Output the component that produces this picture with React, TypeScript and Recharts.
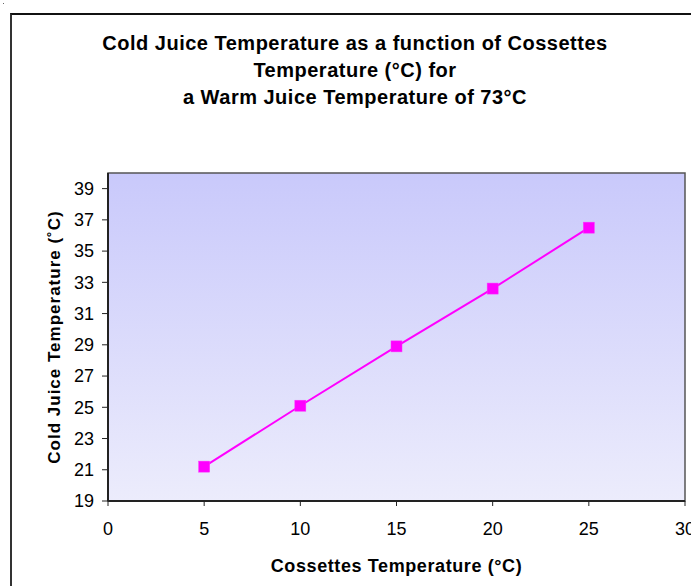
import { Label, Line, LineChart, ReferenceArea, XAxis, YAxis } from "recharts";

const cossettesTemp = [5, 10, 15, 20, 25];
const coldJuiceTemp = [21.2, 25.1, 28.9, 32.6, 36.5];
const xTicks = [0, 5, 10, 15, 20, 25, 30];
const yTicks = [19, 21, 23, 25, 27, 29, 31, 33, 35, 37, 39];

const data = cossettesTemp.map((x, i) => ({ x, y: coldJuiceTemp[i] }));

const FONT = "'Liberation Sans', Arial, sans-serif";
const tick = { fill: "#000", fontSize: 18, fontFamily: FONT };

function SquareDot(props: any) {
  const { cx, cy } = props;
  if (cx == null || cy == null) return null;
  return <rect x={cx - 5.5} y={cy - 5.5} width={11} height={11} fill="#ff00ff" stroke="#ff33ff" strokeWidth={0.5} />;
}

function YLabel({ viewBox }: any) {
  const cx = 54;
  const cy = viewBox.y + viewBox.height / 2;
  return (
    <text
      x={cx}
      y={cy}
      transform={`rotate(-90 ${cx} ${cy})`}
      textAnchor="middle"
      dominantBaseline="central"
      fontFamily={FONT}
      fontWeight="bold"
      fontSize={17}
      letterSpacing={1}
      fill="#000"
    >
      Cold Juice Temperature (˚C)
    </text>
  );
}

export default function App() {
  return (
    <div
      style={{
        position: "absolute",
        left: 0,
        top: 0,
        width: 691,
        height: 586,
        overflow: "hidden",
        background: "#fff",
        fontFamily: FONT,
      }}
    >
      <div
        style={{
          position: "absolute",
          left: 10,
          top: 13,
          width: 720,
          height: 620,
          borderLeft: "2px solid #333",
          borderTop: "2px solid #111",
        }}
      />
      <div
        style={{
          position: "absolute",
          left: 3,
          top: 3,
          width: 1,
          height: 1,
          background: "#666",
        }}
      />
      <div
        style={{
          position: "absolute",
          top: 30,
          left: 0,
          width: 710,
          textAlign: "center",
          fontWeight: "bold",
          fontSize: 20,
          lineHeight: "27px",
          letterSpacing: 0.5,
          color: "#000",
        }}
      >
        Cold Juice Temperature as a function of Cossettes
        <br />
        Temperature (°C) for
        <br />a Warm Juice Temperature of 73°C
      </div>
      <LineChart
        width={691}
        height={586}
        data={data}
        margin={{ top: 173, right: 6, bottom: 5, left: 0 }}
        style={{ position: "absolute", left: 0, top: 0 }}
      >
        <defs>
          <linearGradient id="plotBg" x1="0" y1="0" x2="0" y2="1">
            <stop offset="0%" stopColor="#c9c9fb" />
            <stop offset="100%" stopColor="#ececfc" />
          </linearGradient>
        </defs>
        <ReferenceArea
          x1={0}
          x2={30}
          y1={19}
          y2={40}
          fill="url(#plotBg)"
          fillOpacity={1}
          stroke="#555"
          strokeWidth={1.5}
          ifOverflow="extendDomain"
        />
        <XAxis
          dataKey="x"
          type="number"
          domain={[0, 30]}
          ticks={xTicks}
          height={80}
          tick={tick}
          tickSize={5}
          tickMargin={16}
          axisLine={{ stroke: "#222", strokeWidth: 2 }}
          tickLine={{ stroke: "#222" }}
          interval={0}
        >
          <Label
            value="Cossettes Temperature (°C)"
            position="insideBottom"
            offset={9}
            style={{ fontFamily: FONT, fontWeight: "bold", fontSize: 18, fill: "#000", letterSpacing: 0.6 }}
          />
        </XAxis>
        <YAxis
          type="number"
          domain={[19, 40]}
          ticks={yTicks}
          width={108}
          tick={tick}
          tickSize={6}
          tickMargin={8}
          axisLine={{ stroke: "#222", strokeWidth: 2 }}
          tickLine={{ stroke: "#222" }}
          interval={0}
          label={<YLabel />}
        />
        <Line
          type="linear"
          dataKey="y"
          stroke="#ff00ff"
          strokeWidth={2}
          dot={<SquareDot />}
          activeDot={false}
          isAnimationActive={false}
        />
      </LineChart>
    </div>
  );
}
